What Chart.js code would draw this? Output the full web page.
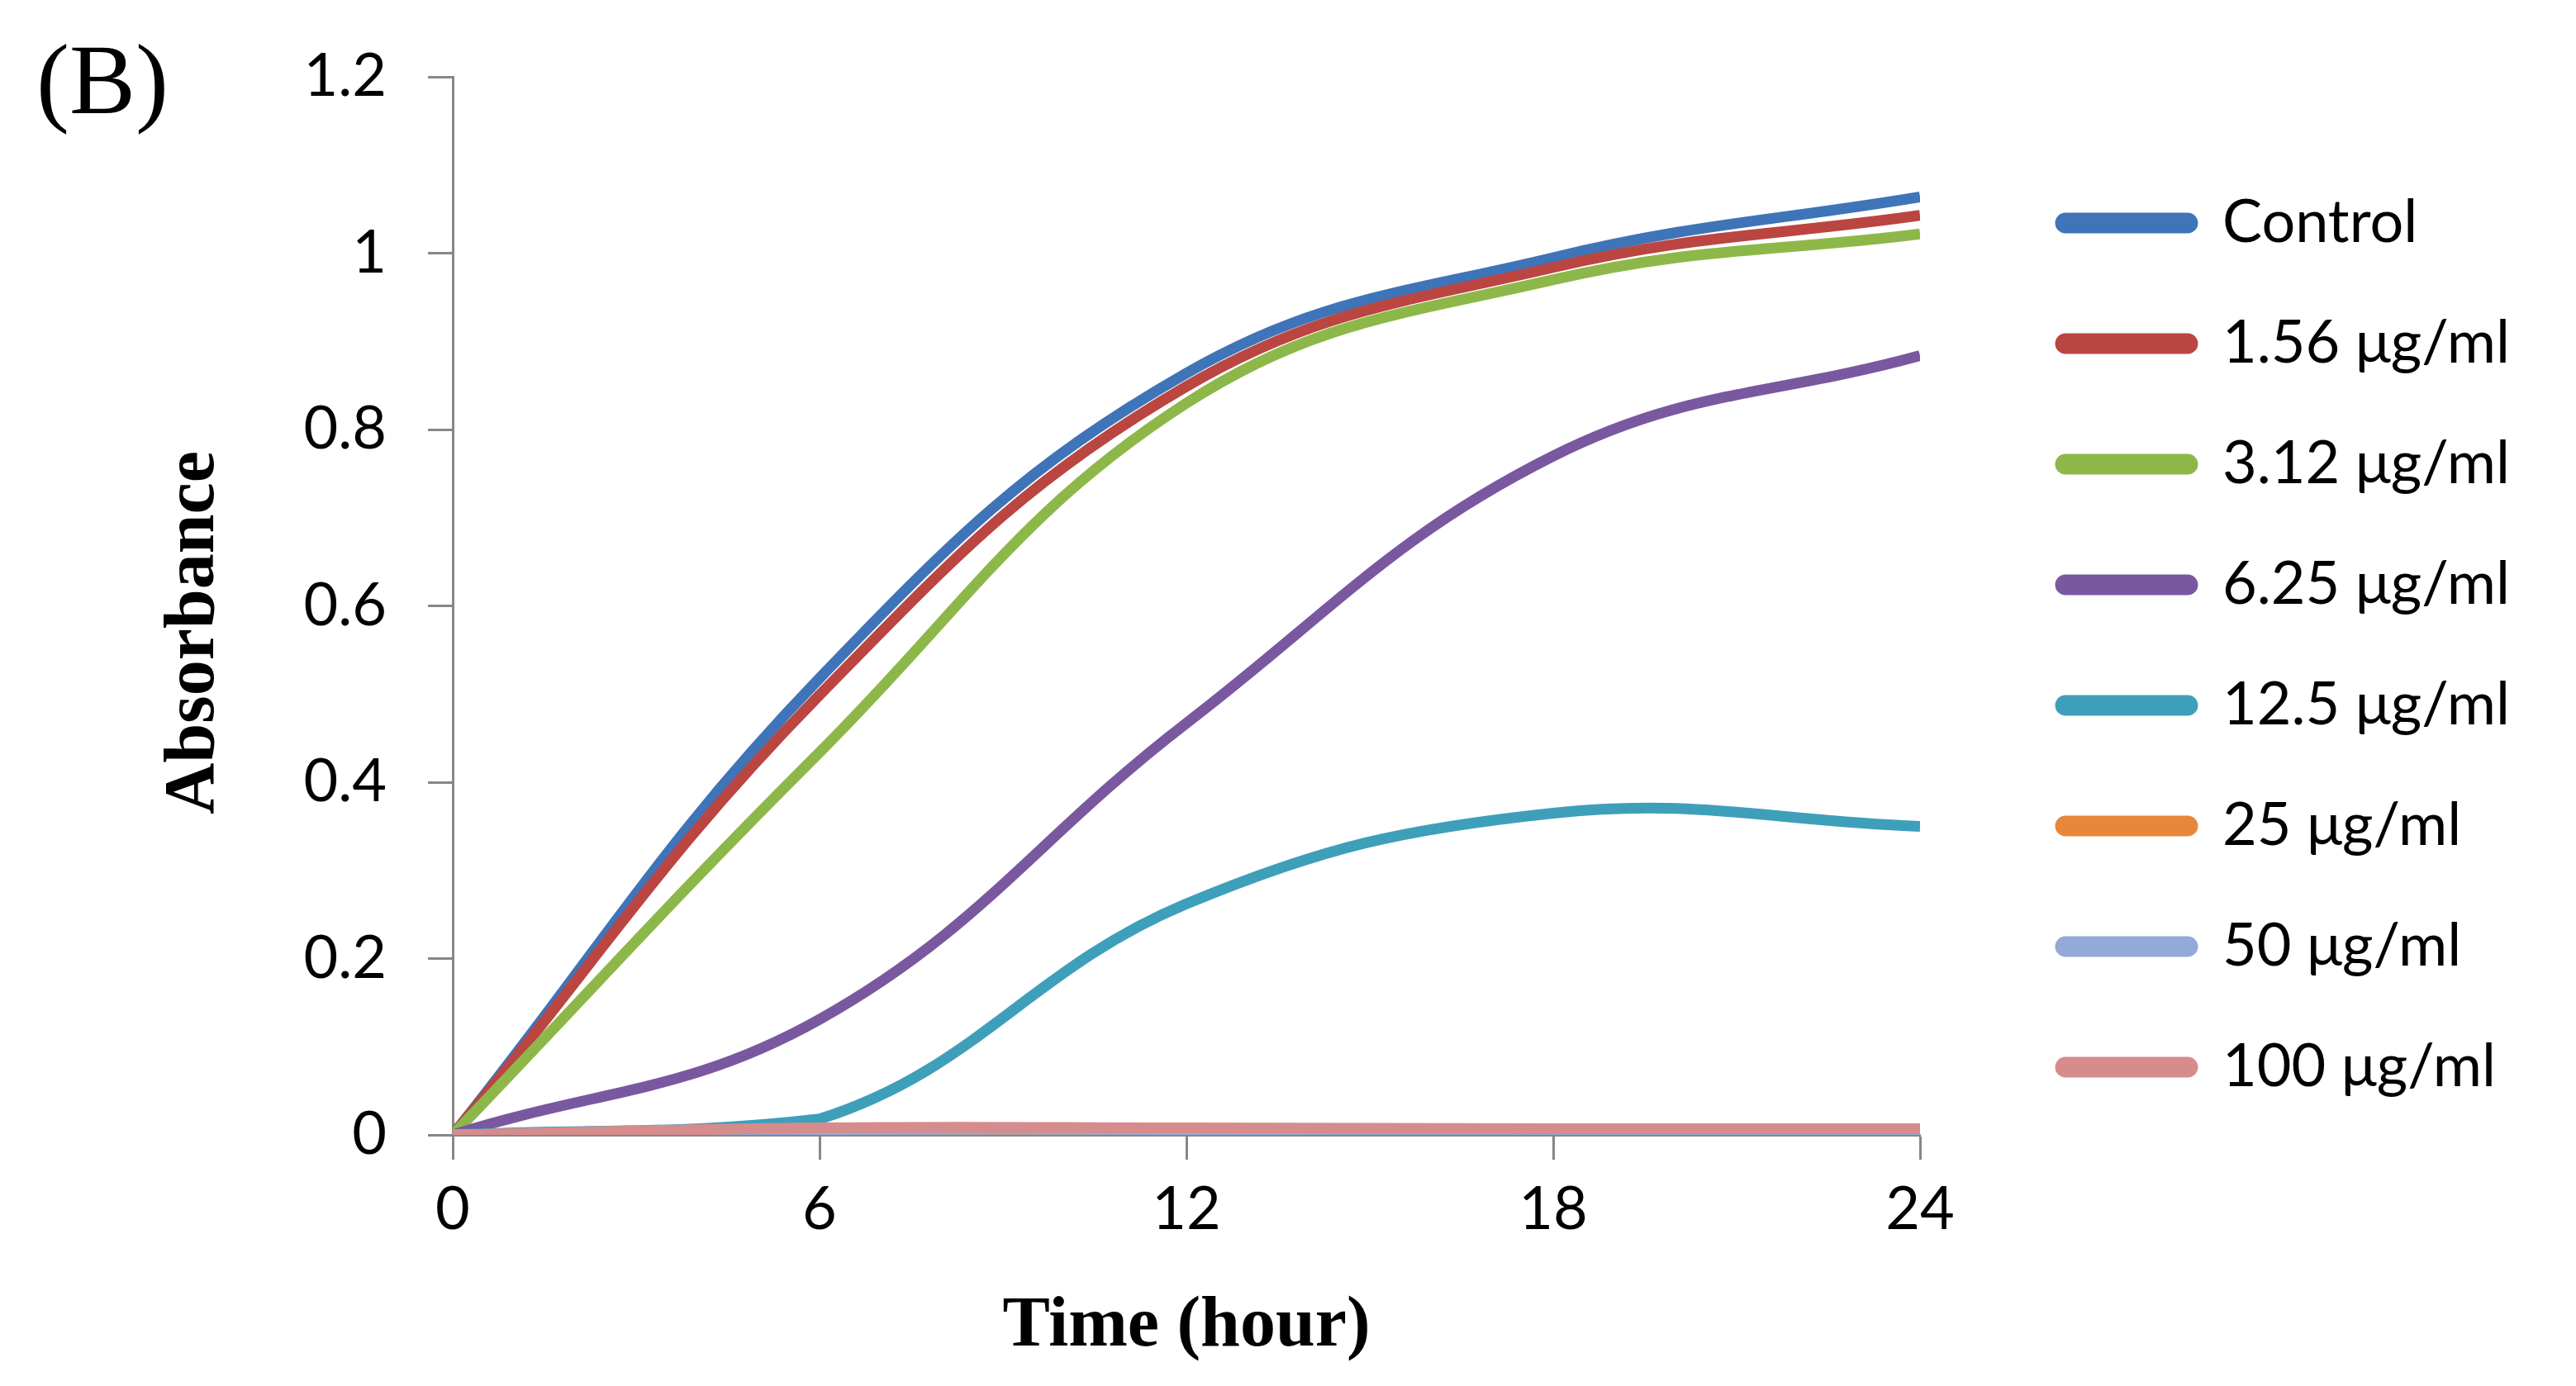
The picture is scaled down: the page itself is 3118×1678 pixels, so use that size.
<!DOCTYPE html>
<html>
<head>
<meta charset="utf-8">
<script src="https://cdn.jsdelivr.net/npm/chart.js@4.4.1/dist/chart.umd.min.js"></script>
<style>
  html, body { margin: 0; padding: 0; background: #fff; }
  canvas { display: block; }
</style>
</head>
<body>
<canvas id="growthChart" width="3118" height="1678"></canvas>
<script>
const hours = [0, 6, 12, 18, 24];
const yTicks = [0, 0.2, 0.4, 0.6, 0.8, 1, 1.2];

const seriesNames = ["Control", "1.56 μg/ml", "3.12 μg/ml", "6.25 μg/ml", "12.5 μg/ml", "25 μg/ml", "50 μg/ml", "100 μg/ml"];
const control = [0, 0.518, 0.864, 0.995, 1.064];
const conc156 = [0, 0.499, 0.849, 0.984, 1.043];
const conc312 = [0, 0.434, 0.830, 0.970, 1.022];
const conc625 = [0, 0.131, 0.467, 0.770, 0.884];
const conc125 = [0, 0.018, 0.262, 0.365, 0.350];
const conc25 = [0, 0.005, 0.005, 0.005, 0.005];
const conc50 = [0, 0.006, 0.006, 0.006, 0.006];
const conc100 = [0, 0.008, 0.008, 0.007, 0.007];

const seriesValues = [control, conc156, conc312, conc625, conc125, conc25, conc50, conc100];
const seriesColors = ["#3F74B8", "#BB4541", "#8DB849", "#7A58A0", "#3E9FBA", "#E8873A", "#93AAD8", "#D68C8C"];

const tickFont = { family: "Lato", size: 72 };
const serifBold = { family: "Liberation Serif", size: 86, weight: "bold", lineHeight: 1.2 };

// legend geometry: boxes start at x=2504, so work out how much room is left on the right
const legendPad = 74, legendBox = 160;
const mctx = document.createElement("canvas").getContext("2d");
mctx.font = "72px Lato";
const widest = Math.max(...seriesNames.map((n) => mctx.measureText(n).width));
const legendLeft = 2504 - legendPad;
const legendW = legendPad + legendBox + 36 + widest;
const rightPad = Math.max(0, 3118 - legendLeft - legendW);

const datasets = seriesNames.map((name, i) => ({
  label: name,
  data: hours.map((h, j) => ({ x: h, y: seriesValues[i][j] })),
  borderColor: seriesColors[i],
  backgroundColor: seriesColors[i],
  borderWidth: 13,
  pointRadius: 0,
  tension: 0.4,
  fill: false,
  order: seriesNames.length - i, // later series on top, like Excel
}));

const ctx = document.getElementById("growthChart");

new Chart(ctx, {
  type: "line",
  data: { datasets },
  options: {
    responsive: false,
    animation: false,
    devicePixelRatio: 1,
    layout: { padding: { left: 44, right: rightPad, top: 0, bottom: 0 } },
    scales: {
      x: {
        type: "linear",
        min: 0,
        max: 24,
        afterBuildTicks: (s) => { s.ticks = hours.map((v) => ({ value: v })); },
        afterFit: (s) => { s.height = 304; },
        grid: { drawOnChartArea: false, tickLength: 30, tickWidth: 3, tickColor: "#878787" },
        border: { color: "#878787", width: 3 },
        ticks: { font: tickFont, color: "#000", padding: 18, maxRotation: 0 },
        title: { display: true, text: "Time (hour)", font: serifBold, color: "#000", padding: { top: 0, bottom: 20 } },
      },
      y: {
        min: 0,
        max: 1.2,
        afterBuildTicks: (s) => { s.ticks = yTicks.map((v) => ({ value: v })); },
        afterFit: (s) => { s.width = 504; },
        grid: { drawOnChartArea: false, tickLength: 30, tickWidth: 3, tickColor: "#878787" },
        border: { color: "#878787", width: 3 },
        ticks: {
          font: tickFont,
          color: "#000",
          padding: 50,
          callback: (v) => String(+v.toFixed(1)),
        },
        title: { display: true, text: "Absorbance   ", font: serifBold, color: "#000", padding: { top: 140, bottom: 0 } },
      },
      gap: {
        position: "right",
        display: true,
        afterFit: (s) => { s.width = legendLeft - 2334; },
        grid: { display: false },
        border: { display: false },
        ticks: { display: false },
      },
    },
    plugins: {
      title: {
        display: true,
        text: "(B)",
        align: "start",
        color: "#000",
        font: { family: "Liberation Serif", size: 120, weight: "normal", lineHeight: 1.2 },
        padding: { top: 30, bottom: -84 },
      },
      legend: {
        position: "right",
        align: "start",
        maxWidth: 1000,
        title: { display: true, text: "", font: { size: 10, lineHeight: 1 }, padding: { top: 0, bottom: 150 } },
        labels: {
          boxWidth: legendBox,
          boxHeight: 12,
          padding: legendPad,
          color: "#000",
          font: tickFont,
          sort: (a, b) => a.datasetIndex - b.datasetIndex,
          useBorderRadius: true,
          borderRadius: 6,
        },
      },
      tooltip: { enabled: false },
    },
  },
});
</script>
</body>
</html>
